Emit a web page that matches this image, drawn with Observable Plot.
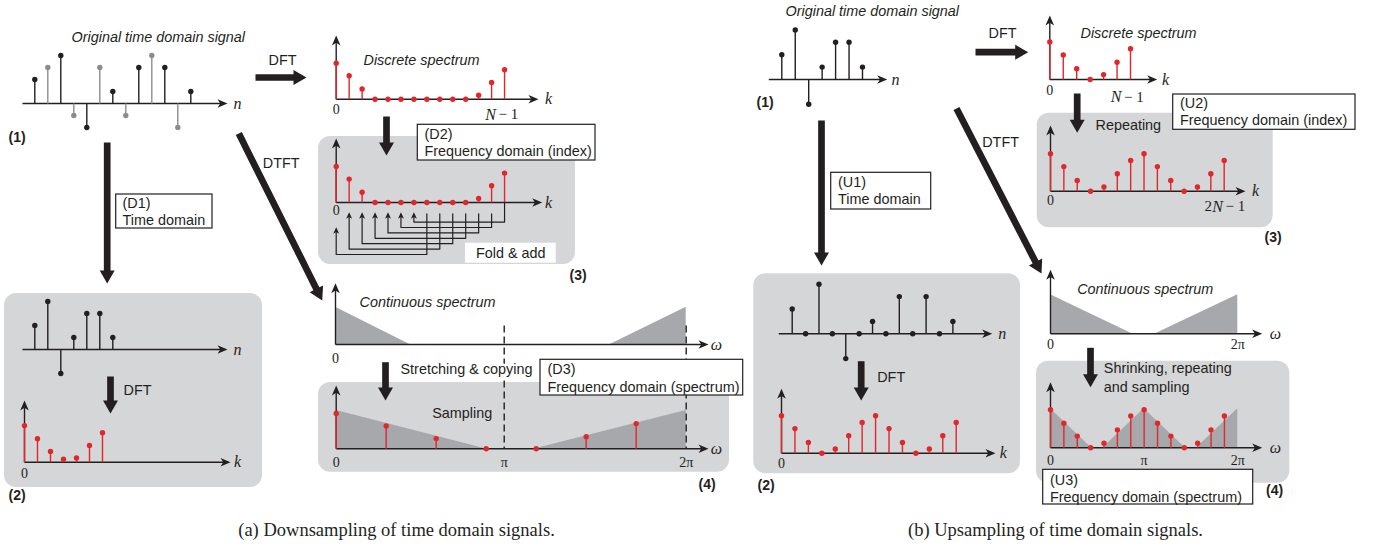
<!DOCTYPE html>
<html><head><meta charset="utf-8">
<script src="https://cdn.jsdelivr.net/npm/d3@7"></script>
<script src="https://cdn.jsdelivr.net/npm/@observablehq/plot@0.6"></script>
<style>body{margin:0;background:#fff}#chart svg{display:block}</style>
</head><body><div id="chart"></div>
<script>
// ---------------- data ----------------
const origSignal = [2, 3, 4, -1, -2, 3, 1, -1, 3, 4, 3, -2, 1];
const downSignal = [2, 4, -2, 1, 3, 3, 1];
const upSignal = [2, 0, 4, 0, -2, 0, 1, 0, 3, 0, 3, 0, 1];
const origSpectrumD = [3.0, 1.95, 0.85, 0, 0, 0, 0, 0, 0, 0, 0, 0.33, 1.4, 2.45];
const downSpectrum = [3.05, 1.95, 0.9, 0.25, 0.35, 1.4, 2.45];
const origSpectrumU = [3.05, 2.0, 0.88, 0, 0.4, 1.4, 2.5];
const repeatedSpectrum = [3.05, 2.0, 0.88, 0, 0.35, 1.42, 2.5, 3.05, 2.0, 0.88, 0, 0.35, 1.42, 2.5];
const sampledSpectrumD = [2.95, 1.9, 0.85, 0, 0, 1.0, 2.1];
const sampledSpectrumU = [3.1, 2.0, 0.95, 0, 0.38, 1.46, 2.58, 3.1, 2.0, 0.95, 0, 0.38, 1.46, 2.58];
// continuous spectra: vertex frequencies (in units of π) and amplitudes
const contD_omega = [0, 0.424, 1.567, 2];
const contD_amp = [3.1, 0, 0, 3.1];
const stretchedD_omega = [0, 0.853, 1.139, 2];
const stretchedD_amp = [3.2, 0, 0, 3.2];
const contU_omega = [0, 0.872, 1.122, 2];
const contU_amp = [3.17, 0, 0, 3.17];
const shrunkU_omega = [0, 0.436, 0.561, 1, 1.436, 1.561, 2];
const shrunkU_amp = [3.17, 0, 0, 3.17, 0, 0, 3.17];
const omegaTicks = [0, 1, 2];
const omegaTickLabels = ["0", "π", "2π"];
const captions = ["(a) Downsampling of time domain signals.", "(b) Upsampling of time domain signals."];

// ---------------- layout ----------------
const W = 1377, H = 551;
const BLACK = "#231f20", RED = "#e1262c", GREYSTEM = "#8c8c8c", PANEL = "#d5d6d8", SHADE = "#a6a8ab";
const SANS = "Liberation Sans, Arial, Helvetica, sans-serif";
const SERIF = "Liberation Serif, Times New Roman, serif";

const L = {
  a1:  {x0: 34.3, dx: 13, y0: 103, unit: 12, ax0: 22, ax1: 227},
  a2s: {x0: 34.3, dx: 13, y0: 349, unit: 12, ax0: 22, ax1: 227},
  a2f: {x0: 24, dx: 13, y0: 461.7, unit: 12, ax0: 24, ax1: 230, top: 400},
  dTop:{x0: 335.7, dx: 12.95, y0: 98.7, unit: 12, ax0: 335.7, ax1: 538, top: 35},
  d2:  {x0: 335.7, dx: 12.95, y0: 202, unit: 12, ax0: 335.7, ax1: 541.7, top: 138},
  dC:  {x0: 335, pi: 175.35, y0: 344, unit: 12, ax0: 335, ax1: 708, top: 282.7},
  d3:  {x0: 335.7, pi: 175, y0: 448.3, unit: 12, ax0: 335.7, ax1: 708, top: 385},
  u1:  {x0: 781.3, dx: 13.45, y0: 79, unit: 12.4, ax0: 768.3, ax1: 886.7},
  uTop:{x0: 1049.3, dx: 13.45, y0: 79, unit: 12.3, ax0: 1049.3, ax1: 1156.7, top: 15},
  u2:  {x0: 1050, dx: 13.36, y0: 190.7, unit: 12.3, ax0: 1050, ax1: 1245, top: 125},
  u1s: {x0: 791.7, dx: 13.39, y0: 333.3, unit: 12.4, ax0: 778.3, ax1: 991.7},
  u1f: {x0: 781, dx: 13.44, y0: 452.7, unit: 12.3, ax0: 781, ax1: 995, top: 388.3},
  uC:  {x0: 1050, pi: 93.65, y0: 333.3, unit: 12.3, ax0: 1050, ax1: 1261.7, top: 269.3},
  u3:  {x0: 1050, pi: 93.65, y0: 447.3, unit: 12.3, ax0: 1050, ax1: 1261.7, top: 381.7}
};
// the reference draws its π guide a little left of the exact scale position
const PI_SHIFT_D = -7;

const heads = [];
let hid = 0;
function head(tx, ty, ang, len, half, notch) {
  const ux = Math.cos(ang), uy = Math.sin(ang), px = -uy, py = ux;
  const bx = tx - ux * len, by = ty - uy * len, id = hid++;
  heads.push({x: tx, y: ty, id}, {x: bx + px * half, y: by + py * half, id},
    {x: tx - ux * (len - notch), y: ty - uy * (len - notch), id}, {x: bx - px * half, y: by - py * half, id});
}

// axes
const axisLinks = [];
for (const p of Object.values(L)) {
  axisLinks.push({x1: p.ax0, y1: p.y0, x2: p.ax1 - 6, y2: p.y0});
  head(p.ax1, p.y0, 0, 10, 4.3, 2.8);
  if (p.top !== undefined) {
    axisLinks.push({x1: p.ax0, y1: p.y0, x2: p.ax0, y2: p.top + 6});
    head(p.ax0, p.top, -Math.PI / 2, 10, 4.3, 2.8);
  }
}

// stems
const stemsOf = (vals, p) => vals.map((v, i) => ({x: p.x0 + i * p.dx, y1: p.y0, y2: p.y0 - v * p.unit, i}));
const omegaStemsOf = (vals, p) => vals.map((v, i) => ({x: p.x0 + (2 * i / vals.length) * p.pi, y1: p.y0, y2: p.y0 - v * p.unit, i}));
const a1 = stemsOf(origSignal, L.a1);
const blackStems = [...a1.filter(d => d.i % 2 === 0), ...stemsOf(downSignal, L.a2s), ...stemsOf(downSignal, L.u1), ...stemsOf(upSignal, L.u1s)];
const greyStems = a1.filter(d => d.i % 2 === 1);
const redStems = [
  ...stemsOf(downSpectrum, L.a2f), ...stemsOf(origSpectrumD, L.dTop), ...stemsOf(origSpectrumD, L.d2),
  ...omegaStemsOf(sampledSpectrumD, L.d3), ...stemsOf(origSpectrumU, L.uTop), ...stemsOf(repeatedSpectrum, L.u2),
  ...stemsOf(repeatedSpectrum, L.u1f), ...omegaStemsOf(sampledSpectrumU, L.u3)
];

// continuous spectra areas
const areaOf = (om, amp, p, id) => om.map((w, i) => ({x: p.x0 + w * p.pi, base: p.y0, y: p.y0 - amp[i] * p.unit, id}));
const areas = [
  ...areaOf(contD_omega, contD_amp, L.dC, "dC"), ...areaOf(stretchedD_omega, stretchedD_amp, L.d3, "d3"),
  ...areaOf(contU_omega, contU_amp, L.uC, "uC"), ...areaOf(shrunkU_omega, shrunkU_amp, L.u3, "u3")
];

// dashed guides (π, 2π) on the downsampling side
const dashes = [1, 2].map(w => ({x: L.d3.x0 + w * L.d3.pi + (w === 1 ? PI_SHIFT_D : 0), y1: 325, y2: L.d3.y0}));

// ticks at last index / π marks
const ticks = [
  {x: L.dTop.x0 + 13 * L.dTop.dx, y1: L.dTop.y0 - 7, y2: L.dTop.y0 + 3},
  {x: L.d2.x0 + 13 * L.d2.dx, y1: L.d2.y0 - 7, y2: L.d2.y0 + 2},
  {x: L.uTop.x0 + 6 * L.uTop.dx, y1: L.uTop.y0 - 7, y2: L.uTop.y0 + 3},
  {x: L.u2.x0 + 13 * L.u2.dx, y1: L.u2.y0 - 7, y2: L.u2.y0 + 3},
  {x: L.u1f.x0 + 13 * L.u1f.dx, y1: L.u1f.y0 - 4, y2: L.u1f.y0 + 5},
  {x: L.uC.x0 + 2 * L.uC.pi, y1: L.uC.y0 - 4, y2: L.uC.y0},
  {x: L.u3.x0 + 1 * L.u3.pi, y1: L.u3.y0 - 4, y2: L.u3.y0},
  {x: L.u3.x0 + 2 * L.u3.pi, y1: L.u3.y0 - 4, y2: L.u3.y0}
];

// fold & add connectors
const folds = [];
for (let i = 0; i < 7; i++) {
  const p = L.d2, xs = p.x0 + (i + 7) * p.dx, xt = p.x0 + i * p.dx;
  const level = 254 - i * 5.4, startY = i === 6 ? p.y0 : 213.3, tipY = i === 0 ? 226.7 : 211.7;
  folds.push({x: xs, y: startY, id: i}, {x: xs, y: level, id: i}, {x: xt, y: level, id: i}, {x: xt, y: tipY + 4, id: i});
  head(xt, tipY, -Math.PI / 2, 6.5, 3, 1.6);
}

// big arrows [x1,y1,x2(tip),y2(tip)]
const bigArrows = [
  [106.7, 142, 106.7, 283], [255, 77, 306, 77], [386, 116, 386, 155], [110, 376, 110, 413],
  [385, 361.7, 385, 400], [238.3, 133, 321.7, 300],
  [821, 120, 821, 265], [975, 51.7, 1027.7, 51.7], [1076.7, 93, 1076.7, 132.3],
  [860.7, 360.7, 860.7, 400], [956, 108, 1041, 273], [1090, 347.3, 1090, 386.7]
];
const shafts = bigArrows.map(([x1, y1, x2, y2]) => {
  const a = Math.atan2(y2 - y1, x2 - x1);
  head(x2, y2, a, 13, 7.5, 0);
  return {x1, y1, x2: x2 - Math.cos(a) * 12, y2: y2 - Math.sin(a) * 12};
});

// panels and boxes
const panels = [
  {x1: 4, x2: 262, y1: 293, y2: 487}, {x1: 318, x2: 575, y1: 136, y2: 264}, {x1: 318, x2: 729, y1: 382, y2: 471.7},
  {x1: 753.3, x2: 1020, y1: 273.3, y2: 473.3}, {x1: 1036.7, x2: 1272.7, y1: 112.7, y2: 227.3}, {x1: 1036, x2: 1289.3, y1: 360.7, y2: 482.7}
];
const boxes = [
  {x1: 115.7, x2: 212, y1: 194, y2: 228}, {x1: 417.3, x2: 595, y1: 124.3, y2: 160}, {x1: 540, x2: 742.7, y1: 359.3, y2: 395},
  {x1: 830.7, x2: 930.7, y1: 172.3, y2: 209}, {x1: 1172.7, x2: 1355, y1: 94, y2: 129.3}, {x1: 1042.7, x2: 1252.7, y1: 469.3, y2: 504}
];
const fillBox = [{x1: 465, x2: 555.7, y1: 242.7, y2: 262.7}];

// texts
const sansText = [
  {x: 268, y: 60, t: "DFT"}, {x: 123, y: 390, t: "DFT"}, {x: 988, y: 33, t: "DFT"}, {x: 876.7, y: 377, t: "DFT"},
  {x: 262.3, y: 163.3, t: "DTFT"}, {x: 981.7, y: 141.7, t: "DTFT"},
  {x: 122, y: 203, t: "(D1)"}, {x: 122, y: 219.5, t: "Time domain"},
  {x: 424, y: 134, t: "(D2)"}, {x: 424, y: 151, t: "Frequency domain (index)"},
  {x: 547, y: 369, t: "(D3)"}, {x: 547, y: 386.5, t: "Frequency domain (spectrum)"},
  {x: 837.5, y: 181.5, t: "(U1)"}, {x: 837.5, y: 199, t: "Time domain"},
  {x: 1179.5, y: 103, t: "(U2)"}, {x: 1179.5, y: 120, t: "Frequency domain (index)"},
  {x: 1049.5, y: 479.5, t: "(U3)"}, {x: 1049.5, y: 496.5, t: "Frequency domain (spectrum)"},
  {x: 431.7, y: 412.7, t: "Sampling"}, {x: 1095, y: 125, t: "Repeating"},
  {x: 1103.3, y: 368.3, t: "Shrinking, repeating"}, {x: 1103.3, y: 386.7, t: "and sampling"}
];
const haloText = [{x: 400, y: 369, t: "Stretching & copying"}];
const italicText = [
  {x: 71, y: 37, t: "Original time domain signal"}, {x: 785, y: 11, t: "Original time domain signal"},
  {x: 363, y: 60, t: "Discrete spectrum"}, {x: 1080, y: 33, t: "Discrete spectrum"},
  {x: 359, y: 301.7, t: "Continuous spectrum"}, {x: 1076.7, y: 289.3, t: "Continuous spectrum"}
];
const boldText = [
  {x: 8, y: 137, t: "(1)"}, {x: 8, y: 495, t: "(2)"}, {x: 569, y: 275, t: "(3)"}, {x: 698, y: 484, t: "(4)"},
  {x: 756, y: 101.7, t: "(1)"}, {x: 757, y: 485, t: "(2)"}, {x: 1264, y: 236.7, t: "(3)"}, {x: 1265.5, y: 490, t: "(4)"}
];
const varText = [
  {x: 237, y: 103, t: "n"}, {x: 237, y: 349, t: "n"}, {x: 237, y: 461.7, t: "k"}, {x: 548, y: 98.7, t: "k"}, {x: 548, y: 202, t: "k"},
  {x: 716, y: 344, t: "ω"}, {x: 716, y: 448.3, t: "ω"}, {x: 895, y: 79, t: "n"}, {x: 1165, y: 79, t: "k"}, {x: 1255, y: 190.7, t: "k"},
  {x: 1001.7, y: 333.3, t: "n"}, {x: 1002.7, y: 452.7, t: "k"}, {x: 1275, y: 333.3, t: "ω"}, {x: 1275, y: 447.3, t: "ω"}
];
// index labels "N − 1", "2N − 1": italic N ending at xN, upright parts around it
const nLabels = [{x: 495.5, y: 114}, {x: 1121, y: 96.5}, {x: 1222.5, y: 206}];
const nText = nLabels.map(d => ({...d, t: "N"}));
const minusOneText = nLabels.map(d => ({x: d.x + 2.5, y: d.y, t: "− 1"}));
const twoText = [{x: nLabels[2].x - 11, y: nLabels[2].y, t: "2"}];
const zeroText = [
  {x: L.dTop.x0, y: 109}, {x: L.d2.x0, y: 210}, {x: L.a2f.x0, y: 473}, {x: L.dC.x0, y: 358},
  {x: L.uTop.x0, y: 90}, {x: L.u2.x0, y: 200}, {x: L.u1f.x0, y: 463.3}, {x: L.uC.x0, y: 344}
].map(d => ({...d, t: "0"}));
const omegaText = [
  ...omegaTicks.map((w, i) => ({x: L.d3.x0 + w * L.d3.pi + (w === 1 ? PI_SHIFT_D : 0), y: 462, t: omegaTickLabels[i]})),
  ...omegaTicks.map((w, i) => ({x: L.u3.x0 + w * L.u3.pi, y: 460, t: omegaTickLabels[i]})),
  {x: L.uC.x0 + 2 * L.uC.pi, y: 344, t: omegaTickLabels[2]}
];
const captionText = [{x: 396, y: 530, t: captions[0]}, {x: 1055, y: 530, t: captions[1]}];

const txt = (data, o) => Plot.text(data, {x: "x", y: "y", text: "t", lineAnchor: "middle", fill: BLACK, ...o});
const link = (data, o) => Plot.link(data, {x1: "x1", y1: "y1", x2: "x2", y2: "y2", ...o});
const stemLinks = (data, color) => Plot.link(data, {x1: "x", y1: "y1", x2: "x", y2: "y2", stroke: color, strokeWidth: 1.4});
const stemDots = (data, color) => Plot.dot(data, {x: "x", y: "y2", r: 2.7, fill: color, stroke: "none"});

const chart = Plot.plot({
  width: W, height: H, margin: 0,
  x: {domain: [0, W], range: [0, W], axis: null},
  y: {domain: [0, H], range: [0, H], axis: null},
  style: {background: "white", overflow: "visible"},
  marks: [
    Plot.rect(panels, {x1: "x1", x2: "x2", y1: "y1", y2: "y2", fill: PANEL, rx: 12}),
    Plot.area(areas, {x1: "x", y1: "base", y2: "y", z: "id", fill: SHADE, curve: "linear"}),
    Plot.link(dashes, {x1: "x", x2: "x", y1: "y1", y2: "y2", stroke: BLACK, strokeWidth: 1.4, strokeDasharray: "7,4"}),
    link(axisLinks, {stroke: BLACK, strokeWidth: 1.4}),
    stemLinks(greyStems, GREYSTEM), stemLinks(blackStems, BLACK), stemLinks(redStems, RED),
    stemDots(greyStems, GREYSTEM), stemDots(blackStems, BLACK), stemDots(redStems, RED),
    link(ticks, {stroke: BLACK, strokeWidth: 1.6}),
    Plot.line(folds, {x: "x", y: "y", z: "id", stroke: BLACK, strokeWidth: 1.2, curve: "linear"}),
    link(shafts, {stroke: BLACK, strokeWidth: 6.7}),
    Plot.line(heads, {x: "x", y: "y", z: "id", fill: BLACK, stroke: "none", curve: "linear"}),
    Plot.rect(boxes, {x1: "x1", x2: "x2", y1: "y1", y2: "y2", fill: "white", stroke: BLACK, strokeWidth: 1.2}),
    Plot.rect(fillBox, {x1: "x1", x2: "x2", y1: "y1", y2: "y2", fill: "white"}),
    txt(sansText, {textAnchor: "start", fontFamily: SANS, fontSize: 14.4}),
    txt(haloText, {textAnchor: "start", fontFamily: SANS, fontSize: 14.4, stroke: "white", strokeWidth: 5, paintOrder: "stroke"}),
    txt(italicText, {textAnchor: "start", fontFamily: SANS, fontSize: 14.4, fontStyle: "italic"}),
    txt([{x: 510.3, y: 253, t: "Fold & add"}], {textAnchor: "middle", fontFamily: SANS, fontSize: 14.4}),
    txt(boldText, {textAnchor: "start", fontFamily: SANS, fontSize: 14, fontWeight: "bold"}),
    txt(varText, {textAnchor: "middle", fontFamily: SERIF, fontSize: 16, fontStyle: "italic"}),
    txt(nText, {textAnchor: "end", fontFamily: SERIF, fontSize: 16, fontStyle: "italic"}),
    txt(minusOneText, {textAnchor: "start", fontFamily: SERIF, fontSize: 15}),
    txt(twoText, {textAnchor: "end", fontFamily: SERIF, fontSize: 15}),
    txt(zeroText, {textAnchor: "middle", fontFamily: SERIF, fontSize: 14}),
    txt(omegaText, {textAnchor: "middle", fontFamily: SERIF, fontSize: 14}),
    txt(captionText, {textAnchor: "middle", fontFamily: SERIF, fontSize: 18.5})
  ]
});
document.getElementById("chart").append(chart);
</script></body></html>
